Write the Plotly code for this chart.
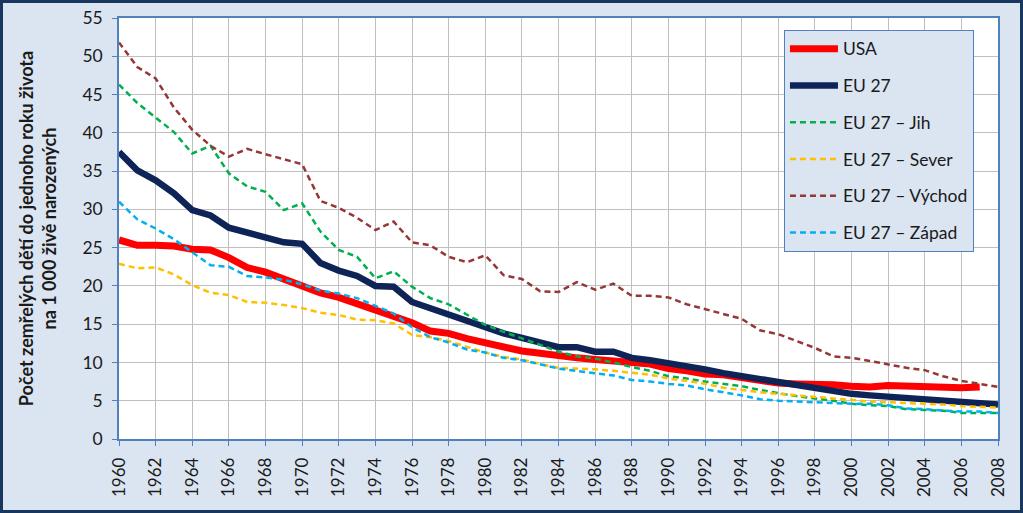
import plotly.graph_objects as go

years = list(range(1960, 2009))

usa = [26.0, 25.3, 25.3, 25.2, 24.8, 24.7, 23.7, 22.4, 21.8, 20.9, 20.0, 19.1, 18.5, 17.7, 16.7,
       16.1, 15.2, 14.1, 13.8, 13.1, 12.6, 11.9, 11.5, 11.2, 10.8, 10.6, 10.4, 10.1, 10.0, 9.8,
       9.2, 8.9, 8.5, 8.4, 8.0, 7.6, 7.3, 7.2, 7.2, 7.1, 6.9, 6.8, 7.0, 6.9, 6.8, 6.9, 6.7, 6.8]

eu27 = [37.5, 35.1, 33.8, 32.1, 29.9, 29.2, 27.6, 26.9, 26.4, 25.7, 25.5, 23.0, 22.0, 21.3, 20.0,
        19.9, 17.9, 17.1, 16.2, 15.3, 14.6, 13.8, 13.2, 12.5, 12.0, 12.0, 11.4, 11.4, 10.6, 10.3,
        9.9, 9.7, 9.1, 8.6, 8.2, 7.7, 7.3, 6.9, 6.5, 6.2, 5.9, 5.7, 5.5, 5.3, 5.2, 5.0, 4.7, 4.6, 4.5]

jih = [46.3, 43.9, 42.0, 40.1, 37.3, 38.3, 34.7, 33.0, 32.3, 29.9, 30.8, 27.1, 24.7, 23.8, 21.0,
       21.9, 19.9, 18.4, 17.6, 16.2, 14.9, 14.0, 13.2, 12.3, 11.4, 10.8, 10.5, 10.0, 9.4, 8.9,
       8.2, 7.9, 7.5, 7.2, 6.9, 6.4, 6.0, 5.6, 5.3, 5.0, 4.6, 4.4, 4.3, 3.9, 3.8, 3.7, 3.4, 3.4, 3.4]

sever = [22.9, 22.3, 22.4, 21.5, 20.1, 19.1, 18.8, 17.9, 17.8, 17.5, 17.1, 16.5, 16.2, 15.6, 15.5,
         15.1, 13.6, 13.3, 12.8, 12.0, 11.3, 10.7, 10.4, 9.8, 9.3, 9.2, 9.1, 8.9, 8.7, 8.4,
         7.9, 7.6, 7.2, 6.7, 6.4, 6.1, 5.9, 5.7, 5.5, 5.3, 5.1, 4.9, 4.8, 4.7, 4.6, 4.5, 4.3, 4.2, 4.1]

vychod = [51.8, 48.6, 47.1, 43.3, 40.4, 38.3, 36.9, 37.9, 37.2, 36.5, 35.9, 31.1, 30.2, 28.9, 27.3,
          28.4, 25.7, 25.3, 23.8, 23.1, 24.0, 21.4, 20.9, 19.3, 19.2, 20.5, 19.5, 20.3, 18.7, 18.7,
          18.5, 17.6, 17.0, 16.4, 15.7, 14.2, 13.7, 12.8, 11.9, 10.8, 10.6, 10.2, 9.8, 9.3, 9.0,
          8.2, 7.6, 7.2, 6.8]

zapad = [31.0, 28.7, 27.5, 26.1, 24.4, 22.7, 22.5, 21.3, 21.1, 20.8, 20.2, 19.4, 19.0, 18.4, 17.4,
         16.4, 14.6, 13.3, 12.6, 11.7, 11.3, 10.6, 10.3, 9.8, 9.2, 8.9, 8.6, 8.3, 7.7, 7.5,
         7.2, 7.0, 6.5, 6.1, 5.7, 5.2, 5.0, 4.9, 4.8, 4.7, 4.6, 4.6, 4.4, 4.0, 3.9, 3.7, 3.6, 3.6, 3.4]

series_names = ["USA", "EU 27", "EU 27 – Jih", "EU 27 – Sever", "EU 27 – Východ", "EU 27 – Západ"]
series_data = [usa, eu27, jih, sever, vychod, zapad]
series_colors = ["#FF0000", "#0E2356", "#00B050", "#FFC000", "#953735", "#00B0F0"]
series_widths = [7, 6.5, 2.5, 2.5, 2.5, 2.5]
series_dash = ["solid", "solid", "6px,4px", "6px,4px", "6px,4px", "6px,4px"]

xticks = list(range(1960, 2009, 2))

FONT = "Lato, 'Open Sans', sans-serif"
AXIS_BLUE = "#4F81BD"

fig = go.Figure()
for i, (name, data, col, w, d) in enumerate(zip(series_names, series_data, series_colors,
                                                 series_widths, series_dash)):
    fig.add_trace(go.Scatter(
        x=years[:len(data)], y=data, name=name, mode="lines",
        line=dict(color=col, width=w, dash=d),
        legendgroup=f"g{i}",
    ))

fig.update_layout(
    width=1023, height=513,
    margin=dict(l=119, r=25, t=18, b=74, autoexpand=False),
    paper_bgcolor="#DBE5F1",
    plot_bgcolor="#FFFFFF",
    font=dict(family=FONT, size=16, color="#1A1A1A"),
    showlegend=True,
    legend=dict(
        x=0.7565, y=0.972, xanchor="left", yanchor="top",
        bgcolor="#DBE5F1", bordercolor=AXIS_BLUE, borderwidth=1,
        font=dict(family=FONT, size=17.5, color="#1A1A1A"),
        traceorder="grouped", tracegroupgap=11,
        itemwidth=48,
    ),
    xaxis=dict(
        range=[1960, 2008], tickvals=xticks, ticktext=[str(t) for t in xticks],
        tickangle=-90, showgrid=True, gridcolor="#BFBFBF", gridwidth=1,
        showline=True, linecolor=AXIS_BLUE, linewidth=1.5, mirror=True,
        ticks="outside", ticklen=5, tickcolor=AXIS_BLUE, tickwidth=1,
        ticklabelstandoff=5,
        tickfont=dict(family=FONT, size=17, color="#1A1A1A"),
        zeroline=False, automargin=False,
    ),
    yaxis=dict(
        range=[0, 55], dtick=5, tick0=0, showgrid=True, gridcolor="#BFBFBF", gridwidth=1,
        showline=True, linecolor=AXIS_BLUE, linewidth=1.5, mirror=True,
        ticks="outside", ticklen=5, tickcolor=AXIS_BLUE, tickwidth=1,
        ticklabelstandoff=6,
        tickfont=dict(family=FONT, size=17.5, color="#1A1A1A"),
        zeroline=False, automargin=False,
        title=dict(
            text="<b>Počet zemřelých dětí do jednoho roku života<br>na 1 000 živě narozených</b>",
            font=dict(family=FONT, size=18, color="#1A1A1A"),
            standoff=21,
        ),
    ),
)

# outer frame of the chart
fig.add_shape(type="rect", xref="paper", yref="paper",
              x0=-117.5 / 879, x1=1 + 23.5 / 879, y0=-72.5 / 421, y1=1 + 16.5 / 421,
              line=dict(color="#17375E", width=3), fillcolor="rgba(0,0,0,0)", layer="below")

fig.write_html("out.html", config={"displayModeBar": False},
               post_script="document.body.style.margin='0';")
